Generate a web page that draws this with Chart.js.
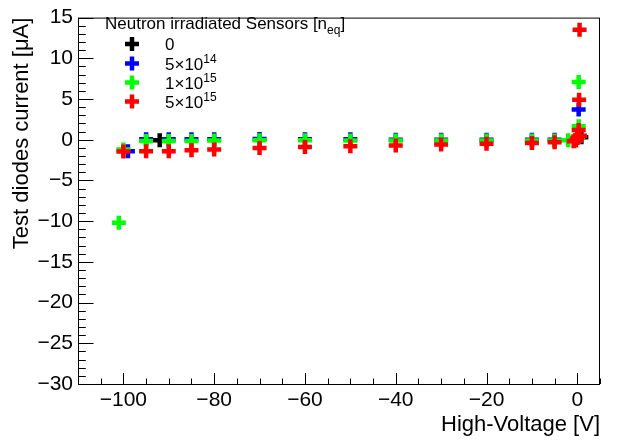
<!DOCTYPE html>
<html lang="en">
<head>
<meta charset="UTF-8">
<title>Test diodes current vs High-Voltage</title>
<script src="https://cdn.jsdelivr.net/npm/chart.js"></script>
<style>
  html, body { margin: 0; padding: 0; background: #fff; }
  .chart-box { width: 618px; height: 442px; position: relative; }
</style>
</head>
<body>
<div class="chart-box"><canvas id="ivChart"></canvas></div>
<script>
// values (voltage in V, current in uA)
const noIrrV   = [-92, 0.9];
const noIrrI   = [-0.05, 0.3];

const n5e14V   = [-99, -95, -90, -85, -80, -70, -60, -50, -40, -30, -20, -10, -5, 0.3];
const n5e14I   = [-1.4, 0.05, 0.05, 0.05, 0.05, 0.1, 0.05, 0.05, 0.0, 0.0, 0.0, 0.0, 0.0, 3.7];

const n1e15V   = [-101, -100, -95, -90, -85, -80, -70, -60, -50, -40, -30, -20, -10, -5, -2, -0.5, 0.2, 0.3, 0.3];
const n1e15I   = [-10.2, -1.2, -0.15, -0.15, -0.15, -0.1, -0.05, -0.05, -0.1, -0.1, -0.1, -0.1, -0.1, -0.1, -0.05, 0, 0.3, 1.65, 7.1];

const n5e15V   = [-100, -95, -90, -85, -80, -70, -60, -50, -40, -30, -20, -10, -5, -0.8, -0.3, 0, 0.6, 0.3, 0.4, 0.5];
const n5e15I   = [-1.45, -1.4, -1.4, -1.3, -1.2, -1.0, -0.9, -0.8, -0.72, -0.6, -0.5, -0.4, -0.3, -0.2, -0.1, 0.2, 0.5, 1.2, 4.9, 13.5];

// legend text: base + superscript
const legendTitle = 'Neutron irradiated Sensors [n';
const legendTitleSub = 'eq';
const legendBase = ['0', '5\u00d710', '1\u00d710', '5\u00d710'];
const legendExp  = ['', '14', '15', '15'];
const seriesColors = ['#000000', '#0000ff', '#00ff00', '#ff0000'];

const xTickValues = [-100, -80, -60, -40, -20, 0];

const FONT = "'Liberation Sans', Arial, Helvetica, sans-serif";

function toPoints(xs, ys) {
    return xs.map((x, i) => ({ x: x, y: ys[i] }));
}

function minus(v) {
    return String(v).replace('-', '\u2212');
}

function drawCross(ctx, x, y, color) {
    ctx.save();
    ctx.strokeStyle = color;
    ctx.lineWidth = 4.5;
    ctx.beginPath();
    ctx.moveTo(x - 7, y); ctx.lineTo(x + 7, y);
    ctx.moveTo(x, y - 7); ctx.lineTo(x, y + 7);
    ctx.stroke();
    ctx.restore();
}

// frame, inward ticks and the legend box, ROOT style
const rootFrame = {
    id: 'rootFrame',
    afterDraw(chart) {
        const ctx = chart.ctx;
        const a = chart.chartArea;
        const xs = chart.scales.x, ys = chart.scales.y;
        ctx.save();
        ctx.strokeStyle = '#000';
        ctx.lineWidth = 1;
        ctx.strokeRect(a.left + 0.5, a.top + 0.5, a.right - a.left - 1, a.bottom - a.top);

        ctx.beginPath();
        for (let v = -30; v <= 15; v++) {
            const py = Math.round(ys.getPixelForValue(v)) + 0.5;
            const len = v % 5 === 0 ? 15.5 : 7.8;
            ctx.moveTo(a.left, py); ctx.lineTo(a.left + len, py);
        }
        for (let v = -110; v <= 5; v += 5) {
            const px = Math.round(xs.getPixelForValue(v)) + 0.5;
            const len = v % 20 === 0 ? 11 : 5.5;
            ctx.moveTo(px, a.bottom); ctx.lineTo(px, a.bottom - len);
        }
        ctx.stroke();

        // legend
        ctx.fillStyle = '#000';
        ctx.textBaseline = 'alphabetic';
        ctx.font = '17px ' + FONT;
        let tx = 105;
        ctx.fillText(legendTitle, tx, 29);
        tx += ctx.measureText(legendTitle).width;
        ctx.font = '12px ' + FONT;
        ctx.fillText(legendTitleSub, tx, 34);
        tx += ctx.measureText(legendTitleSub).width;
        ctx.font = '17px ' + FONT;
        ctx.fillText(']', tx, 29);

        const rowY = [44, 63.5, 82.5, 101.5];
        for (let i = 0; i < legendBase.length; i++) {
            drawCross(ctx, 132, rowY[i], seriesColors[i]);
            ctx.font = '17px ' + FONT;
            ctx.fillStyle = '#000';
            ctx.fillText(legendBase[i], 165, rowY[i] + 6);
            if (legendExp[i]) {
                const w = ctx.measureText(legendBase[i]).width;
                ctx.font = '12px ' + FONT;
                ctx.fillText(legendExp[i], 165 + w, rowY[i] - 1);
            }
        }
        ctx.restore();
    }
};

const crossStyle = { pointStyle: 'cross', pointRadius: 7, pointHoverRadius: 7, pointBorderWidth: 4.5, pointHoverBorderWidth: 4.5 };

const ctx = document.getElementById('ivChart').getContext('2d');
const ivChart = new Chart(ctx, {
    type: 'scatter',
    data: {
        // first dataset is drawn on top
        datasets: [
            Object.assign({ label: '5e15', data: toPoints(n5e15V, n5e15I), borderColor: seriesColors[3], backgroundColor: seriesColors[3] }, crossStyle),
            Object.assign({ label: '1e15', data: toPoints(n1e15V, n1e15I), borderColor: seriesColors[2], backgroundColor: seriesColors[2] }, crossStyle),
            Object.assign({ label: '5e14', data: toPoints(n5e14V, n5e14I), borderColor: seriesColors[1], backgroundColor: seriesColors[1] }, crossStyle),
            Object.assign({ label: '0', data: toPoints(noIrrV, noIrrI), borderColor: seriesColors[0], backgroundColor: seriesColors[0] }, crossStyle)
        ]
    },
    options: {
        responsive: true,
        maintainAspectRatio: false,
        animation: false,
        layout: { padding: { top: 12, right: 18, left: 0, bottom: 0 } },
        plugins: {
            legend: { display: false },
            tooltip: { enabled: false }
        },
        scales: {
            x: {
                type: 'linear',
                min: -110,
                max: 5,
                afterBuildTicks: (scale) => { scale.ticks = xTickValues.map(v => ({ value: v })); },
                afterFit: (scale) => { scale.height = 58; },
                grid: { display: false, drawTicks: false },
                border: { display: false },
                ticks: {
                    color: '#000',
                    padding: 4,
                    maxRotation: 0,
                    font: { family: FONT, size: 21 },
                    callback: (v) => minus(v)
                },
                title: {
                    display: true,
                    text: 'High-Voltage [V]',
                    align: 'end',
                    color: '#000',
                    padding: { top: 0, bottom: 4 },
                    font: { family: FONT, size: 22 }
                }
            },
            y: {
                type: 'linear',
                min: -30,
                max: 15,
                afterFit: (scale) => { scale.width = 78; },
                grid: { display: false, drawTicks: false },
                border: { display: false },
                ticks: {
                    stepSize: 5,
                    color: '#000',
                    padding: 5,
                    font: { family: FONT, size: 21 },
                    callback: (v) => minus(v)
                },
                title: {
                    display: true,
                    text: 'Test diodes current [\u03bcA]',
                    align: 'end',
                    color: '#000',
                    padding: { top: 9, bottom: 0 },
                    font: { family: FONT, size: 22 }
                }
            }
        }
    },
    plugins: [rootFrame]
});
</script>
</body>
</html>
